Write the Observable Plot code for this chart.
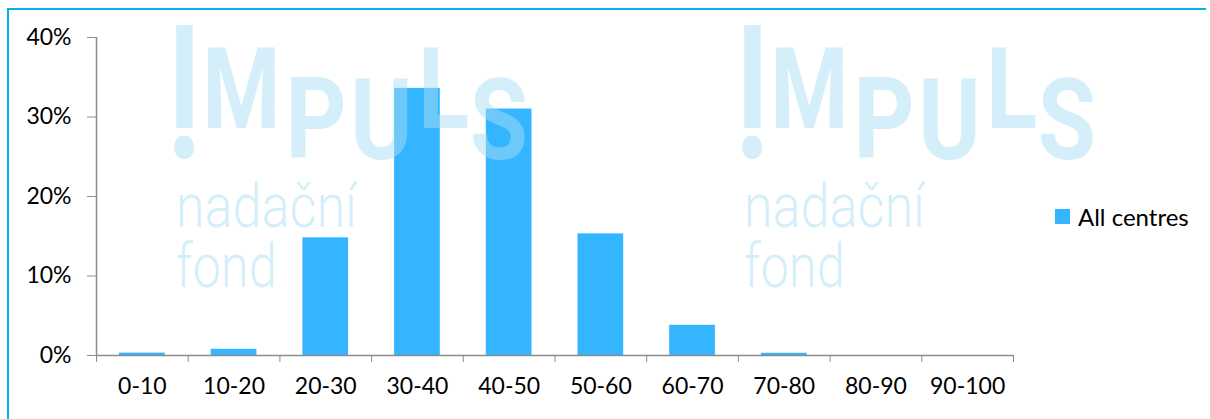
<!DOCTYPE html>
<html>
<head>
<meta charset="utf-8">
<script src="https://cdn.jsdelivr.net/npm/d3@7"></script>
<script src="https://cdn.jsdelivr.net/npm/@observablehq/plot@0.6"></script>
<style>
  body { margin: 0; background: #fff; }
  #wrap { position: relative; width: 1210px; height: 419px; overflow: hidden; background: #fff; font-family: Lato, sans-serif; }
  #frame { position: absolute; left: 7px; top: 8px; width: 1199px; height: 600px; border-top: 2px solid #00b0f0; border-left: 2px solid #00b0f0; box-sizing: border-box; }
  #chart { position: absolute; left: 0; top: 0; }
  #wm { position: absolute; left: 0; top: 0; pointer-events: none; }
  #legend { position: absolute; left: 1055px; top: 200px; height: 32px; display: flex; align-items: center; font-size: 24px; color: #000; }
  #legend .sw { width: 15px; height: 15px; background: #33b5ff; margin-right: 8px; }
</style>
</head>
<body>
<div id="wrap">
  <div id="frame"></div>
  <div id="chart"></div>
  <svg id="wm" width="1210" height="419"></svg>
  <div id="legend"><div class="sw"></div><span>All centres</span></div>
</div>
<script>
// ---- data ----
const categories = ["0-10", "10-20", "20-30", "30-40", "40-50", "50-60", "60-70", "70-80", "80-90", "90-100"];
const shares = [0.3, 0.78, 14.8, 33.6, 31.0, 15.3, 3.8, 0.28, 0, 0]; // percent
const yTicks = [0, 10, 20, 30, 40];
const seriesName = "All centres";
const barColor = "#33b5ff";

const data = categories.map((c, i) => ({ cat: c, i, v: shares[i] }));

const chart = Plot.plot({
  width: 1210,
  height: 419,
  marginLeft: 96,
  marginRight: 197,
  marginTop: 37,
  marginBottom: 64,
  style: { background: "transparent", fontFamily: "Lato, sans-serif", fontSize: "23px", color: "#000" },
  x: { type: "linear", domain: [0, categories.length] },
  y: { domain: [0, 40] },
  marks: [
    Plot.rectY(data, { x1: "i", x2: d => d.i + 1, y: "v", fill: barColor, insetLeft: 23, insetRight: 23 }),
    Plot.ruleX([0], { stroke: "#8c8c8c", strokeWidth: 1.5 }),
    Plot.ruleY([0], { stroke: "#8c8c8c", strokeWidth: 1.5 }),
    Plot.axisY({ ticks: yTicks, tickFormat: d => d + "%", tickSize: 9, tickPadding: 16, stroke: "#8c8c8c", fill: "#000", label: null, fontSize: 23 }),
    Plot.axisX({ ticks: d3.range(categories.length + 1), tickSize: 7, tickFormat: () => "", stroke: "#8c8c8c", label: null }),
    Plot.axisX({ ticks: d3.range(categories.length).map(i => i + 0.5), tickSize: 0, tickPadding: 22, tickFormat: d => categories[Math.floor(d)], fill: "#000", label: null, fontSize: 23 })
  ]
});
document.getElementById("chart").appendChild(chart);
document.querySelector("#legend span").textContent = seriesName;

// ---- watermark (decorative logo text) ----
const wm = d3.select("#wm");
const logo = [
  { t: "M", cx: 241.5, base: 128, size: 114, sx: 0.78, w: 700 },
  { t: "P", cx: 316, base: 158, size: 114, sx: 0.83, w: 700 },
  { t: "U", cx: 381.5, base: 159, size: 114, sx: 0.83, w: 700 },
  { t: "L", cx: 443.5, base: 128, size: 114, sx: 0.83, w: 700 },
  { t: "S", cx: 499, base: 159, size: 114, sx: 0.83, w: 700 }
];
for (const ox of [0, 568]) {
  const g = wm.append("g").attr("fill", "#aaddf5").attr("fill-opacity", 0.5).attr("font-family", "Roboto, sans-serif");
  // stylised "!" of the logo: bar + dot in one text element
  const ex = g.append("text")
    .attr("transform", `translate(${184.5 + ox},0) scale(0.78,1)`)
    .attr("text-anchor", "middle")
    .attr("font-weight", 700);
  ex.append("tspan").attr("x", 0).attr("y", 128).attr("font-size", 144).text("I");
  ex.append("tspan").attr("x", 0).attr("y", 158).attr("font-size", 160).text(".");
  for (const l of logo) {
    g.append("text")
      .attr("transform", `translate(${l.cx + ox},${l.base}) scale(${l.sx},1)`)
      .attr("text-anchor", "middle")
      .attr("font-size", l.size)
      .attr("font-weight", l.w)
      .text(l.t);
  }
  g.append("text").attr("x", 176 + ox).attr("y", 227).attr("font-size", 61).attr("font-weight", 300)
    .attr("textLength", 181).attr("lengthAdjust", "spacingAndGlyphs").text("nadační");
  g.append("text").attr("x", 176 + ox).attr("y", 287).attr("font-size", 61).attr("font-weight", 300)
    .attr("textLength", 101).attr("lengthAdjust", "spacingAndGlyphs").text("fond");
}
</script>
</body>
</html>
